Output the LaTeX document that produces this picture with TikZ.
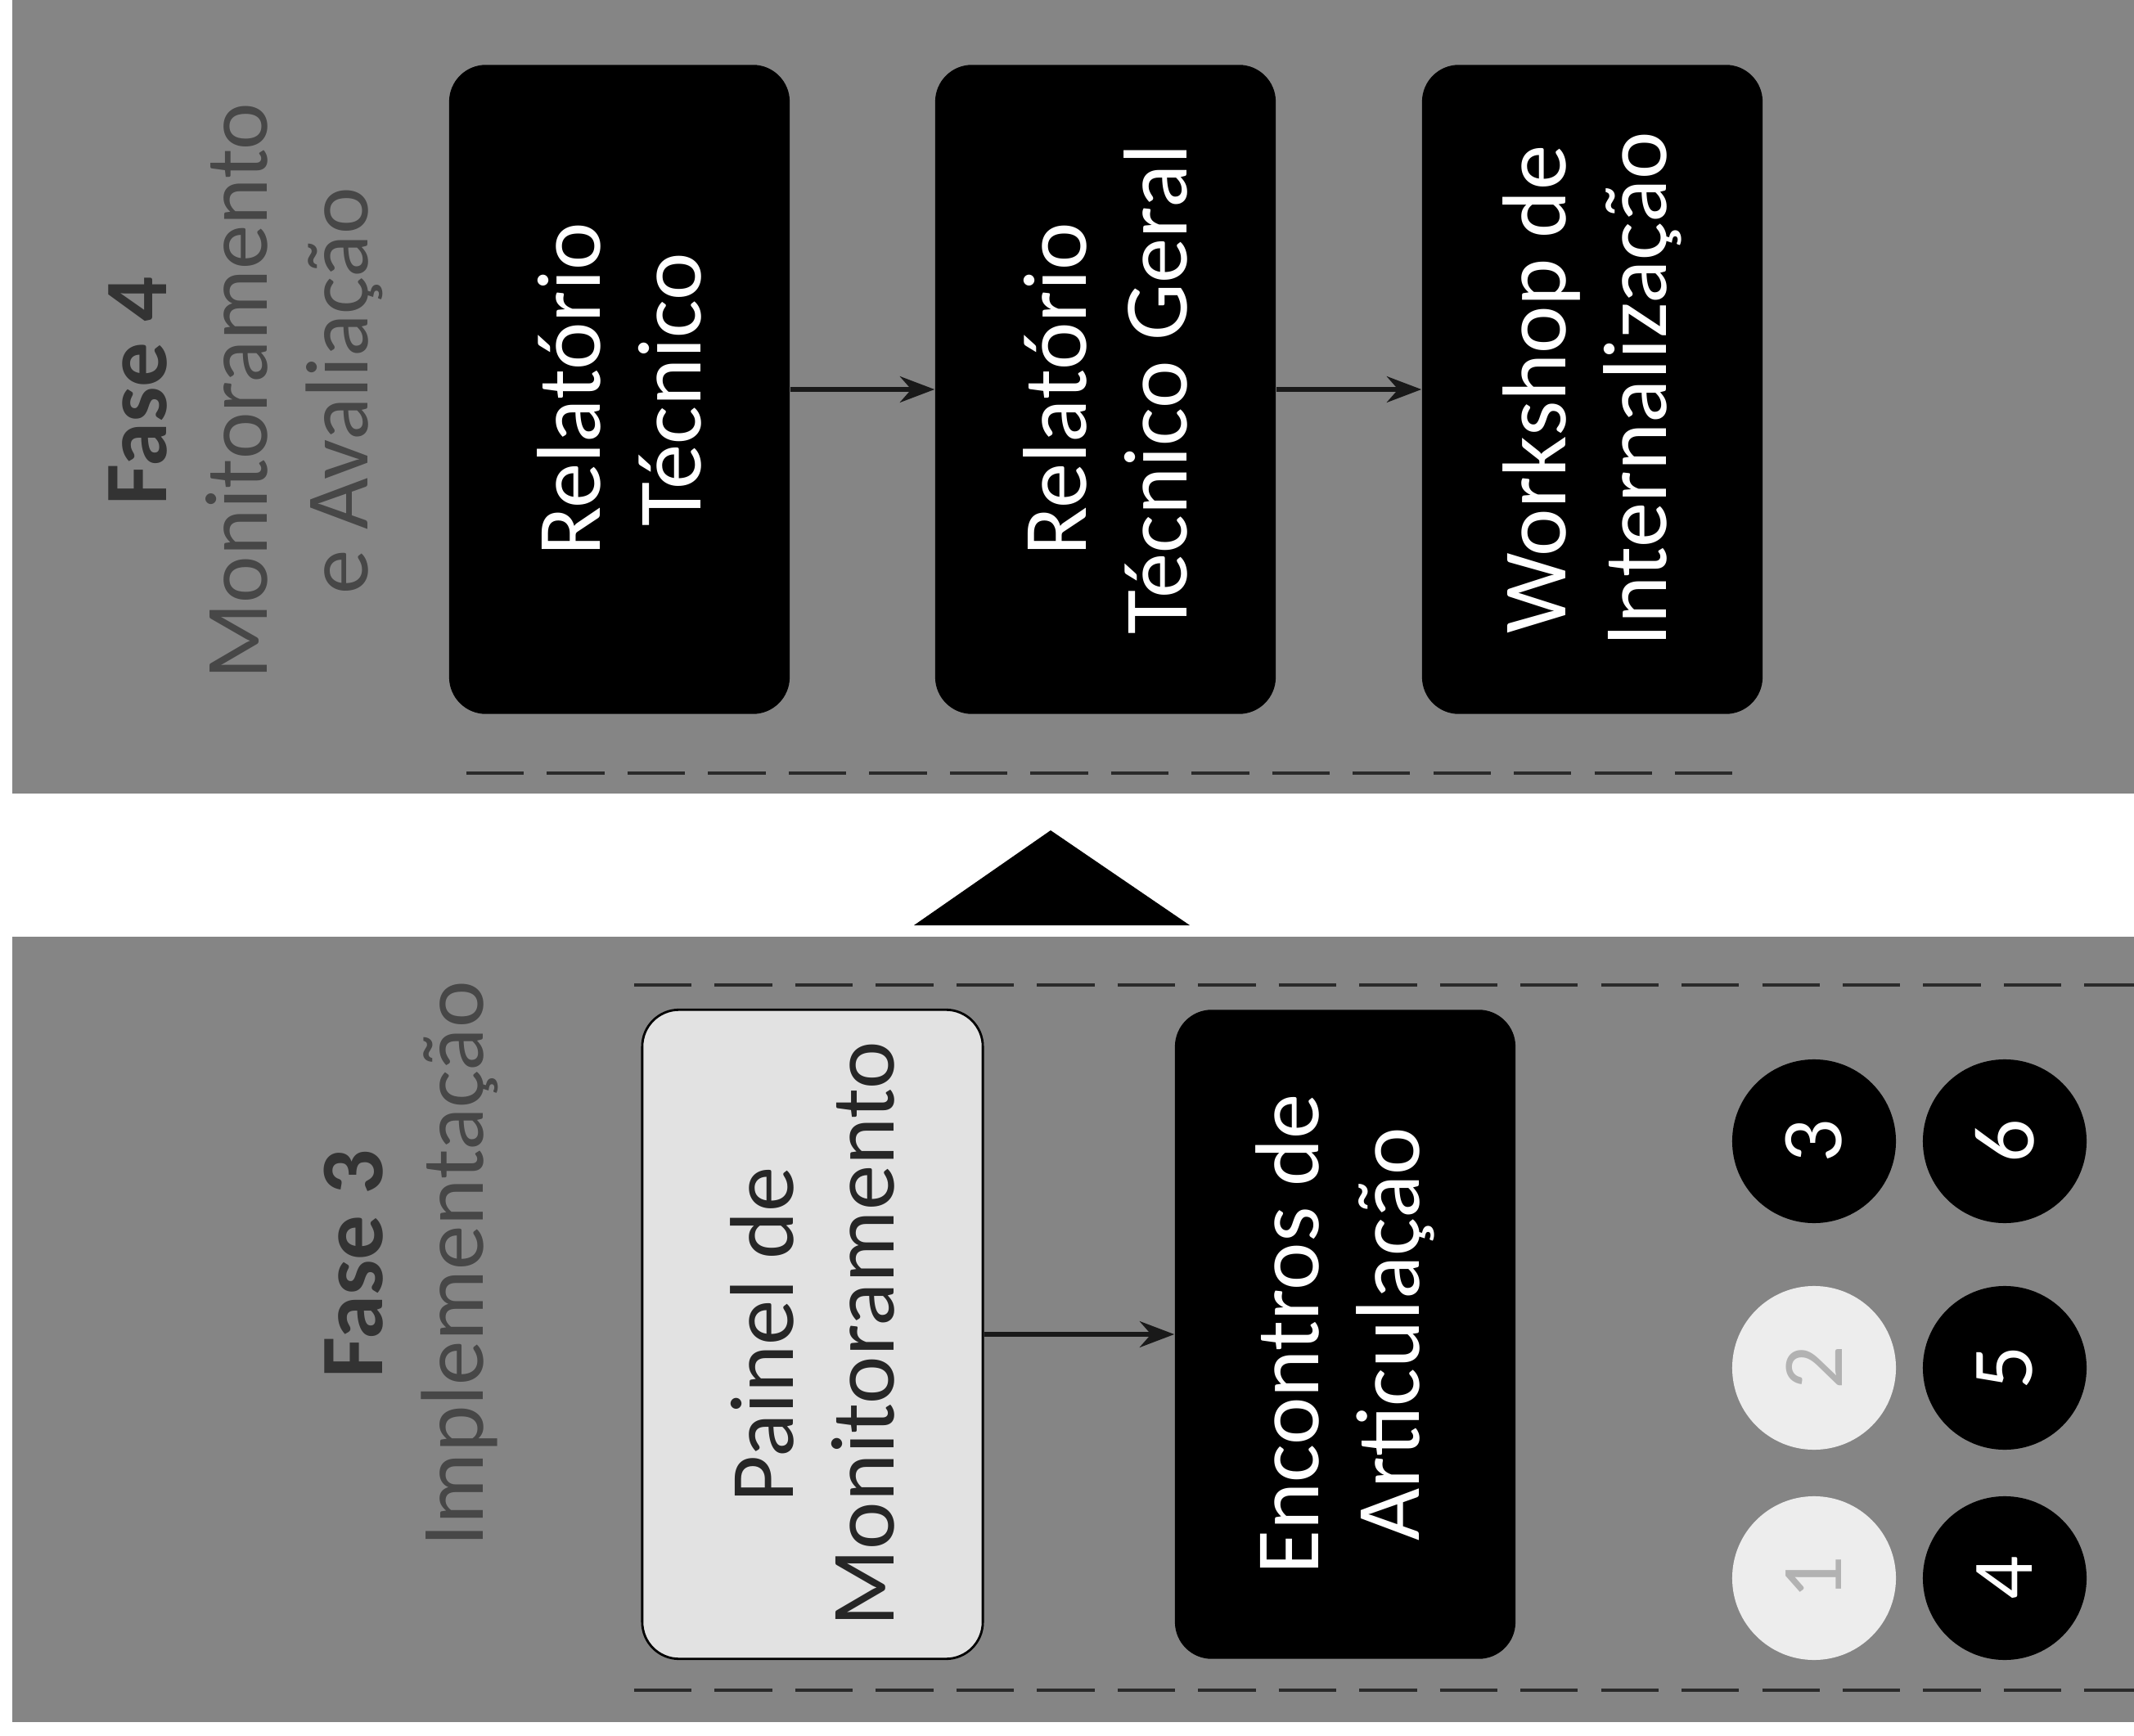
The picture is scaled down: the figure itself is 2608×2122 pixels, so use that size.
\documentclass[tikz,border=0pt]{standalone}
\usepackage{fontspec}
\setmainfont{Carlito}
\usetikzlibrary{arrows.meta}
\definecolor{panelgray}{HTML}{858585}
\definecolor{titlegray}{HTML}{474747}
\definecolor{lightfill}{HTML}{E2E2E2}
\definecolor{dashgray}{HTML}{2A2A2A}
\begin{document}
\begin{tikzpicture}[x=0.01cm,y=-0.01cm,
  panel/.style={fill=panelgray},
  darkbox/.style={rounded corners=0.45cm, fill=black, text=white, rotate=90,
    minimum width=7.93cm, minimum height=4.16cm, align=center, inner sep=0pt,
    font=\fontsize{31.5}{35}\selectfont},
  lightbox/.style={darkbox, fill=lightfill, draw=black, line width=0.8pt, text=black!85},
  phasetitle/.style={rotate=90, align=center, text=titlegray, font=\fontsize{31}{35}\selectfont},
  numcirc/.style={circle, fill=black, text=white, minimum size=2cm, inner sep=0pt,
    rotate=90, font=\fontsize{30}{34}\selectfont},
  whitecirc/.style={numcirc, fill=white!93!black, text=black!30},
  dashline/.style={draw=dashgray, line width=1.2pt, dash pattern=on 20pt off 8pt},
  arr/.style={-{Stealth[length=12pt,width=9pt]}, line width=1.8pt, draw=black!90}
]
\useasboundingbox (0,0) rectangle (2608,2122);
% panels
\fill[panel] (15,0) rectangle (2608,970);
\fill[panel] (15,1145) rectangle (2608,2105);
% dashed lines
\draw[dashline] (570,945) -- (2140,945);
\draw[dashline] (775,1204) -- (2608,1204);
\draw[dashline] (775,2066) -- (2608,2066);
% triangle
\fill[black] (1284,1015) -- (1454,1131) -- (1117,1131) -- cycle;
% titles
\node[phasetitle] (t4) at (300,478) {\textcolor{black!80}{\textbf{Fase 4}}\\Monitoramento\\e Avaliação};
\node[phasetitle] (t3) at (502,1545) {\textcolor{black!80}{\textbf{Fase 3}}\\Implementação};
% top boxes
\node[darkbox] (b1) at (757,476) {Relatório\\Técnico};
\node[darkbox] (b2) at (1351,476) {Relatório\\Técnico Geral};
\node[darkbox] (b3) at (1946,476) {Workshop de\\Internalização};
\draw[arr] (b1) -- (b2);
\draw[arr] (b2) -- (b3);
% bottom boxes
\node[lightbox] (p) at (993,1631) {Painel de\\Monitoramento};
\node[darkbox] (e) at (1644,1631) {Encontros de\\Articulação};
\draw[arr] (p) -- (e);
% circles
\node[numcirc] (c3) at (2217,1395) {3};
\node[numcirc] (c6) at (2450,1395) {6};
\node[whitecirc] (c2) at (2217,1672) {2};
\node[numcirc] (c5) at (2450,1672) {5};
\node[whitecirc] (c1) at (2217,1929) {1};
\node[numcirc] (c4) at (2450,1929) {4};
\end{tikzpicture}
\end{document}
